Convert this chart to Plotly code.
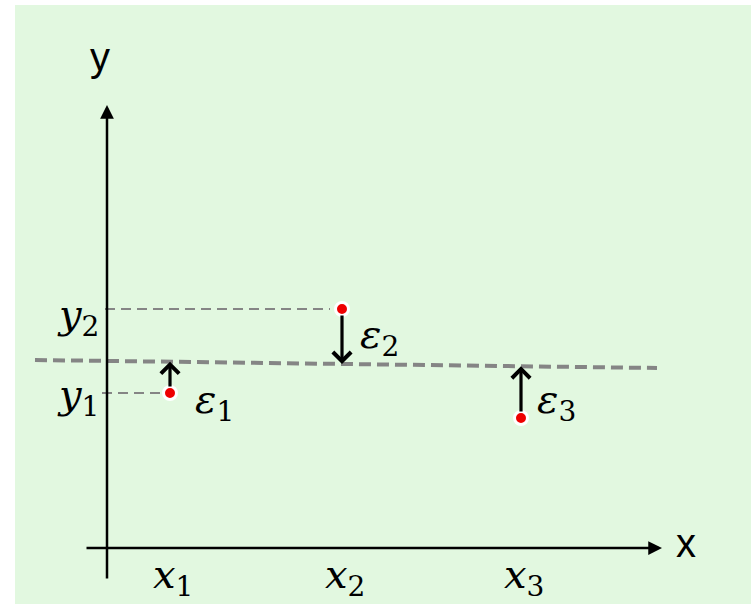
import plotly.graph_objects as go

# Data (conceptual units: origin at the axes crossing)
pt_x = [63, 235, 414]
pt_y = [155, 239, 130]
pt_names = ["1", "2", "3"]
fit_x = [-72, 550]
fit_y = [188, 180]

x_axis_span = [-22, 555]
y_axis_span = [-32, 443]

def fit(x):
    return fit_y[0] + (x - fit_x[0]) * (fit_y[1] - fit_y[0]) / (fit_x[1] - fit_x[0])

BG = "#E2F8E0"
GRAY = "#858585"
SERIF = "DejaVu Serif, serif"
SANS = "Liberation Sans, Arial, sans-serif"

fig = go.Figure()

# fitted (dashed) line
fig.add_trace(go.Scatter(x=fit_x, y=fit_y, mode="lines",
                         line=dict(color=GRAY, width=4, dash="12px,6px"),
                         hoverinfo="skip", showlegend=False))
# guide lines to y-axis
fig.add_trace(go.Scatter(x=[-2, pt_x[1] - 12], y=[pt_y[1], pt_y[1]], mode="lines",
                         line=dict(color=GRAY, width=2, dash="10px,6px"),
                         hoverinfo="skip", showlegend=False))
fig.add_trace(go.Scatter(x=[-5, pt_x[0] - 8], y=[pt_y[0], pt_y[0]], mode="lines",
                         line=dict(color=GRAY, width=2, dash="10px,6px"),
                         hoverinfo="skip", showlegend=False))

annotations = []
# axes arrows
annotations.append(dict(x=x_axis_span[1], y=0, ax=x_axis_span[0], ay=0,
                        xref="x", yref="y", axref="x", ayref="y", text="",
                        showarrow=True, arrowhead=2, arrowwidth=2.5, arrowsize=1.1,
                        arrowcolor="black"))
annotations.append(dict(x=0, y=y_axis_span[1], ax=0, ay=y_axis_span[0],
                        xref="x", yref="y", axref="x", ayref="y", text="",
                        showarrow=True, arrowhead=2, arrowwidth=2.5, arrowsize=1.1,
                        arrowcolor="black"))
# residual arrows
for xi, yi in zip(pt_x, pt_y):
    annotations.append(dict(x=xi, y=fit(xi), ax=xi, ay=yi,
                            xref="x", yref="y", axref="x", ayref="y", text="",
                            showarrow=True, arrowhead=4, arrowwidth=3.2, arrowsize=1.1,
                            startstandoff=5, arrowcolor="black"))

fig.add_trace(go.Scatter(x=pt_x, y=pt_y, mode="markers",
                         marker=dict(color="#EE0000", size=13,
                                     line=dict(color="white", width=3)),
                         hoverinfo="skip", showlegend=False))

# axis labels
annotations.append(dict(x=579, y=5, xref="x", yref="y", text="x", showarrow=False,
                        font=dict(family=SANS, size=40, color="black")))
annotations.append(dict(x=-7, y=491, xref="x", yref="y", text="y", showarrow=False,
                        font=dict(family=SANS, size=40, color="black")))

lab_font = dict(family=SERIF, size=40, color="black")
# x tick labels
for xi, n in zip(pt_x, pt_names):
    annotations.append(dict(x=xi + 3, y=-29, xref="x", yref="y",
                            text=f"<i>x</i><sub>{n}</sub>", showarrow=False, font=lab_font))
# y labels
annotations.append(dict(x=-29, y=231, xref="x", yref="y",
                        text=f"<i>y</i><sub>{pt_names[1]}</sub>", showarrow=False, font=lab_font))
annotations.append(dict(x=-29, y=151, xref="x", yref="y",
                        text=f"<i>y</i><sub>{pt_names[0]}</sub>", showarrow=False, font=lab_font))
# epsilon labels
eps_off = [(44, 146), (37, 211), (35, 146)]
for xi, n, (dx, yy) in zip(pt_x, pt_names, eps_off):
    annotations.append(dict(x=xi + dx, y=yy, xref="x", yref="y",
                            text=f"<i>ε</i><sub>{n}</sub>", showarrow=False, font=lab_font))

fig.update_layout(
    width=751, height=604,
    margin=dict(l=15, r=0, t=5, b=0),
    paper_bgcolor="white", plot_bgcolor=BG,
    xaxis=dict(range=[-92, 644], visible=False, fixedrange=True),
    yaxis=dict(range=[-56, 543], visible=False, fixedrange=True),
    annotations=annotations,
)

fig.write_html("out.html", config={"displayModeBar": False},
               post_script="document.body.style.margin='0';document.body.style.overflow='hidden';")
